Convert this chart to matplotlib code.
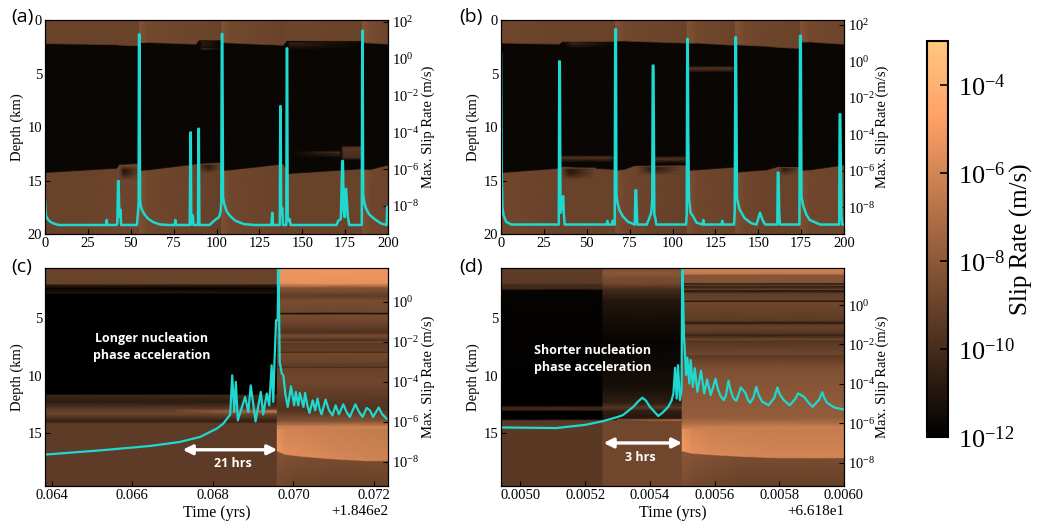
import numpy as np
import matplotlib
matplotlib.use("Agg")
import matplotlib.pyplot as plt
from matplotlib.colors import LogNorm
from matplotlib.cm import ScalarMappable

plt.rcParams['font.family'] = ['Liberation Serif', 'DejaVu Sans']
plt.rcParams['mathtext.fontset'] = 'stix'

W, H = 1037, 523
VMIN, VMAX = 1e-12, 1e-3
LINE = "#1fd8d0"
norm = LogNorm(VMIN, VMAX)

# panel (a): slip rate field, log10 values
a_t = [0, 20, 42, 43.5, 54.9, 55.1, 60, 88, 90, 102.9, 103.1, 108, 139, 141, 184.9, 185.1, 190, 200]
a_top = [2.25, 2.3, 2.35, 2.4, 2.45, 2.15, 2.15, 2.3, 1.95, 1.95, 2.15, 2.2, 2.4, 2.0, 2.05, 2.15, 2.2, 2.3]
a_low = [14.3, 14.1, 13.9, 13.55, 13.45, 14.1, 14.05, 13.5, 13.45, 13.35, 14.1, 14.05, 13.5, 14.4, 13.95, 14.0, 14.0, 13.6]
a_up_val = [-9.0, -9.0, -9.0, -9.0, -9.0, -8.3, -8.7, -8.9, -8.9, -9.0, -8.3, -8.7, -9.0, -8.9, -9.0, -8.2, -8.6, -8.9]
a_low_val = [-9.0, -9.0, -8.9, -8.9, -8.9, -8.4, -8.8, -9.0, -9.0, -9.1, -8.4, -8.8, -9.0, -9.0, -9.0, -8.4, -8.8, -8.9]
a_patch_t = [(43.5, 46, 55), (90, 92, 103), (141, 143, 185), (141.5, 172, 174), (172.5, 174, 184, 185), (88, 95, 103)]
a_patch_d = [(13.65, 14.0, 14.35, 14.9), (1.97, 2.05, 2.6, 2.72, 2.82), (2.05, 2.15, 2.6, 2.8),
             (12.2, 12.38, 12.5, 12.9), (11.75, 11.95, 12.9, 13.1), (13.5, 13.6, 13.95, 14.3)]
a_patch_v = [(-9.0, -10.9, -10.9, -9.0), (-11.7, -10.6, -11.2, -9.8, -11.7), (-11.7, -10.4, -11.2, -11.7),
             (-11.7, -9.7, -10.3, -11.7), (-11.7, -9.6, -9.9, -11.7), (-9.0, -10.8, -10.4, -9.0)]
a_patch_bg = [-9.0, -11.7, -11.7, -11.7, -11.7, -9.0]

# panel (a): max slip rate
a_line_t = [0, 0.5, 1.5, 3, 5, 8, 34, 35.6, 36, 36.4, 41.8, 42.2, 42.6, 42.9, 43.1, 43.3, 43.7, 44.0, 44.4, 53.6, 54.2, 54.6, 54.8, 55.1, 55.4, 55.8, 56.5, 58, 60, 63, 67, 72,
            75.6, 76, 76.4, 84.4, 84.8, 85.0, 85.3, 85.8, 86.2, 86.6, 89.2, 89.5, 89.7, 90.0, 96, 98, 100, 101.5, 102.4, 102.8, 103.1, 103.4, 103.8, 104.5, 106, 108, 111, 116, 122,
            132, 132.5, 133, 136.9, 137.2, 137.4, 137.7, 138.3, 138.8, 140.7, 141, 141.2, 141.5, 142, 142.6, 143.2, 170, 171, 172.5, 173.3, 173.7, 174.2, 174.8, 175.5, 176, 176.6, 177.4,
            184.7, 185, 185.2, 185.5, 186, 187, 189, 192, 196, 199.2, 199.5, 200]
a_line_v = [-7.7, -8.5, -8.7, -8.85, -8.95, -9.03, -9.03, -9.03, -8.76, -9.03, -9.03, -8.9, -6.64, -6.64, -7.5, -8.3, -8.6, -8.2, -9.03, -9.03, -8.4, -7.8, 1.33, 1.33, -7.6, -8.0, -8.2, -8.45, -8.68, -8.87, -9.0, -9.03,
            -9.03, -8.76, -9.03, -9.03, -4.0, -4.0, -9.0, -8.9, -8.5, -9.03, -9.03, -3.8, -3.8, -9.03, -9.03, -8.85, -8.7, -8.6, -8.3, -7.8, 1.35, 1.35, -7.5, -7.9, -8.3, -8.55, -8.8, -8.98, -9.03,
            -9.03, -8.37, -9.03, -9.03, -2.57, -2.57, -8.4, -8.1, -9.03, -9.03, 0.57, 0.57, -8.6, -8.8, -8.7, -9.03, -9.03, -8.8, -8.7, -5.55, -5.55, -8.3, -8.6, -7.06, -7.7, -8.6, -9.03,
            -9.03, 1.53, 1.53, -7.3, -7.75, -8.1, -8.45, -8.7, -8.95, -9.03, -8.05, -8.05]

# panel (b): slip rate field, log10 values
b_t = [0, 34, 36, 66.6, 66.8, 72, 78, 108.4, 108.7, 114, 136.4, 136.7, 142, 155, 161.5, 174.4, 174.6, 180, 200]
b_top = [2.2, 2.3, 2.05, 2.05, 2.0, 2.0, 2.05, 2.2, 2.2, 2.2, 2.4, 2.35, 2.4, 2.5, 2.6, 2.7, 2.1, 2.1, 2.3]
b_low = [14.3, 13.9, 13.75, 14.0, 14.1, 14.0, 13.65, 13.6, 14.1, 14.05, 13.8, 14.3, 14.2, 14.05, 13.75, 14.1, 14.1, 14.05, 13.6]
b_up_val = [-8.8, -9.0, -9.0, -9.0, -8.3, -8.7, -8.8, -9.0, -8.3, -8.7, -9.0, -8.3, -8.7, -8.9, -8.9, -9.0, -8.3, -8.7, -8.9]
b_low_val = [-8.8, -9.0, -9.0, -9.0, -8.4, -8.8, -8.9, -9.1, -8.4, -8.8, -9.0, -8.4, -8.8, -9.0, -9.0, -9.0, -8.4, -8.8, -8.9]
b_patch_t = [(34.5, 35, 64, 66.5), (35, 40, 55), (109, 109.5, 135, 136.4), (88, 89, 107, 108.4), (80, 88, 106), (36, 42, 66.5), (161.5, 165, 174)]
b_patch_d = [(12.65, 12.85, 13.0, 13.3), (13.85, 14.0, 14.4, 14.9), (4.3, 4.5, 4.7, 4.9), (12.7, 12.95, 13.1, 13.4),
             (13.7, 13.8, 14.05, 14.5), (2.1, 2.15, 2.35, 2.6), (13.8, 13.9, 14.1, 14.5)]
b_patch_v = [(-11.7, -9.7, -10.2, -11.7), (-9.0, -11.0, -10.8, -9.0), (-11.7, -9.7, -10.2, -11.7), (-11.7, -9.7, -10.2, -11.7),
             (-9.0, -10.9, -10.8, -9.0), (-11.7, -10.2, -10.6, -11.7), (-9.0, -10.8, -10.6, -9.0)]
b_patch_bg = [-11.7, -9.0, -11.7, -11.7, -9.0, -11.7, -9.0]

# panel (b): max slip rate
b_line_t = [0, 0.4, 0.8, 1.5, 3, 6, 33.7, 34, 34.3, 34.7, 35.4, 36, 36.3, 36.6, 37.1, 61.6, 62, 62.4, 64.6, 65, 65.6, 66.3, 66.6, 67, 67.3, 67.8, 69, 71, 74, 78,
            78.4, 78.8, 79.1, 79.5, 85, 86.5, 87.6, 88.2, 88.5, 88.9, 89.4, 90, 90.5, 107.9, 108.3, 108.6, 108.9, 109.2, 109.6, 110.5, 112, 114, 117.6, 118, 118.4, 128.6, 129, 129.4,
            135.9, 136.3, 136.7, 137, 137.6, 139, 142, 146, 149, 151, 152.5, 154, 161.1, 161.4, 161.8, 162.2, 162.6, 174, 174.4, 174.8, 175.2, 176, 178, 180, 186, 197.2, 197.5, 197.8, 198.5, 199, 200]
b_line_v = [0.44, -6.0, -8.0, -8.45, -8.8, -8.95, -8.95, 0.0, 0.0, -8.3, -8.0, -7.4, -7.4, -8.3, -8.95, -8.95, -8.75, -8.95, -8.95, -8.75, -8.95, -8.95, 1.76, 1.76, -7.3, -7.7, -8.15, -8.5, -8.8, -8.95,
            -7.07, -7.07, -8.0, -8.95, -8.95, -8.6, -8.3, -7.6, -0.23, -0.23, -8.4, -8.6, -8.95, -8.95, -8.4, 1.23, 1.23, -4.26, -7.5, -8.3, -8.5, -8.85, -8.95, -8.7, -8.95, -8.95, -8.75, -8.95,
            -8.95, -8.2, 1.32, 1.32, -7.5, -8.1, -8.6, -8.88, -8.95, -8.3, -8.7, -8.95, -8.95, -6.1, -6.1, -8.2, -8.95, -8.95, 1.4, 1.4, -7.4, -7.85, -8.4, -8.7, -8.95, -8.95, -2.9, -2.9, -8.5, -8.95, -8.95]

# panel (c): depth knots and log10 slip rate before and after the event
c_pre_t = [0.06383, 0.06960]
c_pre_d = [0.65, 2.05, 2.15, 2.45, 2.85, 2.95, 11.6, 11.75, 12.3, 12.9, 13.35, 13.9, 14.05, 14.2, 19.6]
c_pre_v = [-9.0, -9.0, -10.6, -11.9, -11.0, -12, -12, -10.2, -10.8, -9.4, -8.9, -10.4, -10.4, -9.3, -9.3]
c_post_t = [0.06960, 0.07235]
c_post_d = [0.65, 2.0, 2.4, 2.7, 3.1, 3.5, 4.55, 4.6, 4.68, 4.75, 5.4, 6.0, 6.3, 6.5, 6.7, 7.0, 7.1, 7.2, 7.9, 8.0, 8.1, 8.8, 9.3, 9.35, 9.4, 10.5, 12, 13, 14.0, 14.4, 14.7]
c_post_v = [-5.2, -5.4, -8.3, -8.6, -9.3, -8.5, -8.9, -11.2, -11.2, -8.6, -8.9, -9.5, -9.8, -8.6, -8.9, -10.0, -8.5, -9.4, -9.2, -10.2, -8.7, -9.0, -9.5, -10.0, -9.0, -8.8, -9.4, -9.7, -8.2, -6.4, -6.0]
c_bright_t = [0.06960, 0.0698, 0.0703, 0.0710, 0.0718, 0.07235]
c_bright_edge = [16.6, 16.9, 17.1, 17.3, 17.45, 17.45]
c_bright_val = [-5.2, -5.6, -5.7, -5.9, -6.0, -6.1]
c_under_val = [-8.2, -8.4, -8.5, -8.6, -8.6, -8.6]
c_glow_t = [0.0671, 0.0680, 0.0690, 0.0692, 0.06958]
c_glow_d = [(12.95, 13.13, 13.35)] * 5
c_glow_v = [-8.9, -7.9, -7.2, -6.6, -6.0]
c_glow_bg = -9.0

# panel (c): max slip rate
c_line_t = [0.06384, 0.0652, 0.06644, 0.06718, 0.06768, 0.06785, 0.0681, 0.06826, 0.06843, 0.06848, 0.06853, 0.06857, 0.06862, 0.0688, 0.06888, 0.06894, 0.06906, 0.06919, 0.06925, 0.06934,
            0.0694, 0.06946, 0.0695, 0.06953, 0.06957, 0.06961, 0.06963, 0.06966, 0.06971, 0.06975, 0.0698, 0.06986, 0.06994, 0.07002, 0.07006, 0.07012, 0.07016, 0.07025, 0.07029,
            0.07035, 0.0704, 0.07048, 0.07054, 0.0706, 0.07065, 0.0707, 0.0708, 0.07088, 0.07097, 0.07105, 0.07113, 0.07124, 0.07132, 0.0714, 0.07154, 0.07163, 0.07172, 0.07182, 0.0719, 0.07198, 0.07212, 0.0722, 0.07231]
c_line_v = [-7.63, -7.42, -7.2, -7.0, -6.75, -6.58, -6.33, -6.08, -5.63, -3.67, -5.5, -4.0, -5.92, -4.75, -5.5, -4.17, -5.97, -4.5, -5.63, -4.58,
            -5.17, -3.17, -5.0, -3.0, -0.92, -0.9, 1.67, -3.0, -3.58, -3.67, -4.6, -5.25, -4.22, -5.17, -4.5, -5.17, -4.55, -5.25, -4.55,
            -5.2, -5.55, -4.92, -5.42, -4.83, -5.35, -5.62, -4.88, -5.4, -5.67, -5.17, -5.62, -5.12, -5.5, -5.75, -5.12, -5.5, -5.75, -5.3, -5.42, -5.75, -5.28, -5.6, -5.83]

# panel (d): depth knots in three time windows
d_pre_t = [0.00494, 0.005255]
d_pre_d = [0.65, 2.0, 2.1, 2.5, 2.6, 12.6, 12.8, 13.0, 13.15, 13.8, 13.95, 19.6]
d_pre_v = [-9.3, -9.3, -10.0, -10.2, -11.8, -12, -10.2, -10.2, -12, -12, -9.4, -9.4]
d_mid_t = [0.005255, 0.0055]
d_mid_d = [0.65, 1.1, 1.6, 2.05, 2.5, 3.5, 7, 11, 12.4, 12.8, 13.1, 13.85, 13.95, 19.6]
d_mid_v = [-8.6, -8.0, -8.6, -8.8, -10.0, -11.0, -11.8, -11.3, -10.6, -9.4, -10.6, -11.0, -8.8, -8.8]
d_post_t = [0.0055, 0.0060]
d_post_d = [0.65, 0.9, 1.2, 1.3, 1.95, 2.05, 2.2, 2.3, 2.55, 2.65, 2.9, 3.5, 3.55, 3.65, 4.3, 5.3, 5.45, 5.6, 5.8, 6.4, 6.5, 6.9, 7.0, 8.2, 8.3, 9.2, 10, 12, 13.7, 14.4, 14.8]
d_post_v = [-5.7, -6.2, -6.6, -8.2, -8.2, -10.8, -9.0, -10.6, -9.0, -11.0, -9.2, -9.0, -11.7, -8.8, -9.0, -9.4, -11.0, -9.3, -9.0, -9.6, -10.5, -8.7, -9.6, -8.8, -9.4, -8.5, -8.3, -8.0, -7.8, -6.5, -5.9]
d_bright_t = [0.0055, 0.00553, 0.0056, 0.0057, 0.0058, 0.0060]
d_bright_edge = [16.6, 16.8, 16.95, 17.1, 17.2, 17.2]
d_bright_val = [-5.0, -5.5, -5.8, -5.9, -6.0, -6.0]
d_under_val = [-8.0, -8.2, -8.4, -8.6, -8.6, -8.6]
d_glow_t = [0.00530, 0.00540, 0.0055]
d_glow_d = [(13.8, 13.9, 14.0)] * 3
d_glow_v = [-8.6, -7.6, -6.6]
d_glow_bg = -9.0

# panel (d): max slip rate
d_line_t = [0.00494, 0.00511, 0.0052, 0.005255, 0.0053, 0.005317, 0.005349, 0.005365, 0.005377, 0.005388, 0.0054, 0.005426, 0.00544, 0.005457, 0.005467, 0.005473, 0.005478, 0.005483, 0.005487, 0.005493, 0.005498, 0.0055, 0.005501,
            0.005506, 0.005507, 0.005512, 0.005516, 0.005522, 0.005526, 0.005533, 0.005539, 0.005547, 0.005558, 0.005568, 0.005577, 0.005588, 0.005603, 0.00561, 0.005618, 0.005628, 0.005635, 0.005643, 0.00565, 0.005658, 0.005667,
            0.005675, 0.005681, 0.005695, 0.005703, 0.00571, 0.00572, 0.005729, 0.005736, 0.005747, 0.005767, 0.005785, 0.005794, 0.005802, 0.005814, 0.005832, 0.00585, 0.005858, 0.005876, 0.00589, 0.005903, 0.005923, 0.005933, 0.00594, 0.005948, 0.00597, 0.006]
d_line_v = [-6.21, -6.24, -6.08, -5.89, -5.68, -5.58, -5.16, -4.87, -4.70, -4.85, -5.16, -5.63, -5.45, -5.16, -4.85, -4.48, -3.18, -4.74, -3.05, -4.82, -4.3, 1.78, 1.78,
            -1.86, -1.95, -3.55, -2.67, -3.98, -2.79, -4.15, -3.21, -4.4, -3.33, -4.48, -3.77, -4.57, -3.74, -4.25, -4.6, -4.82, -4.6, -3.84, -4.35, -4.72, -4.86,
            -4.5, -4.18, -4.45, -4.8, -4.96, -4.7, -4.15, -4.55, -4.9, -5.08, -4.7, -4.18, -4.55, -4.82, -5.09, -4.75, -4.48, -4.65, -4.95, -5.16, -4.8, -4.42, -4.75, -4.96, -5.2, -5.3]


def draw_bands(ax, t0, t1, depths, logs):
    """Fill one time window with slip rate given at depth knots."""
    d = np.array(depths, dtype=float)
    v = 10.0**np.array(logs, dtype=float)
    X = np.column_stack([np.full(len(d), t0), np.full(len(d), t1)])
    Y = np.column_stack([d, d])
    C = np.column_stack([v, v])
    ax.pcolormesh(X, Y, C, cmap="copper", norm=norm, shading="gouraud")


def draw_blob(ax, t, depths, logs, bg):
    """Feature that fades into its surroundings at both ends in time."""
    d = np.array(depths, dtype=float)
    X = np.tile(np.array(t, float), (len(d), 1))
    Y = np.tile(d[:, None], (1, len(t)))
    C = np.tile(np.array(logs, float)[:, None], (1, len(t)))
    C[:, 0] = bg
    C[:, -1] = bg
    ax.pcolormesh(X, Y, 10.0**C, cmap="copper", norm=norm, shading="gouraud")


def draw_glow(ax, t, depths, logs, bg):
    """Thin bright layer whose brightness changes with time."""
    Y = np.array(depths, float).T
    X = np.tile(np.array(t, float), (Y.shape[0], 1))
    C = np.full(Y.shape, float(bg))
    C[1, :] = logs
    ax.pcolormesh(X, Y, 10.0**C, cmap="copper", norm=norm, shading="gouraud")


def draw_field(ax, t, top, low, up_val, low_val, black=-11.7, bottom=20.0):
    """Upper and lower creeping zones around a locked zone, with moving edges."""
    t, top, low = np.array(t, float), np.array(top, float), np.array(low, float)
    up_val, low_val = np.array(up_val, float), np.array(low_val, float)
    blk = np.full(len(t), black)
    Y = np.column_stack([np.zeros(len(t)), top - 0.06, top + 0.06, low - 0.06, low + 0.06, np.full(len(t), bottom)])
    C = np.column_stack([up_val, up_val, blk, blk, low_val, low_val])
    X = np.tile(t[:, None], (1, Y.shape[1]))
    ax.pcolormesh(X, Y, 10.0**C, cmap="copper", norm=norm, shading="gouraud")


def draw_edge(ax, t, edge, bright, under, top=14.7, bottom=19.6):
    """Bright zone after the event whose lower edge moves with time."""
    t, edge = np.array(t, float), np.array(edge, float)
    bright, under = np.array(bright, float), np.array(under, float)
    Y = np.column_stack([np.full(len(t), top), edge - 0.05, edge + 0.05, np.full(len(t), bottom)])
    C = np.column_stack([bright - 0.4, bright, under, under - 0.5])
    X = np.tile(t[:, None], (1, 4))
    ax.pcolormesh(X, Y, 10.0**C, cmap="copper", norm=norm, shading="gouraud")


def make_axes(box):
    x0, y0, x1, y1 = box
    ax = fig.add_axes([x0/W, 1 - y1/H, (x1 - x0)/W, (y1 - y0)/H])
    ax.tick_params(labelsize=10.5, direction="in", length=3.5, pad=2, width=0.8)
    ax.set_ylabel("Depth (km)", fontsize=10.5)
    ax.yaxis.set_label_coords(-0.06, 0.5)
    return ax


def add_line(ax, t, v, ylim, label_x, lw=1.8):
    ax2 = ax.twinx()
    ax2.plot(t, 10.0**np.array(v), color=LINE, lw=lw)
    ax2.set_yscale("log")
    ax2.set_ylim(10.0**ylim[0], 10.0**ylim[1])
    ax2.set_yticks([10.0**e for e in range(-8, 3, 2) if e <= ylim[1]])
    ax2.minorticks_off()
    ax2.tick_params(labelsize=10.5, direction="in", length=3.5, pad=3, width=0.8)
    ax2.set_ylabel("Max. Slip Rate (m/s)", fontsize=10.5)
    ax2.yaxis.set_label_coords(label_x, 0.5)
    return ax2


fig = plt.figure(figsize=(W/100, H/100), dpi=100)

# (a)
ax_a = make_axes((45, 20, 388, 234))
draw_field(ax_a, a_t, a_top, a_low, a_up_val, a_low_val)
for t, d, v, bg in zip(a_patch_t, a_patch_d, a_patch_v, a_patch_bg):
    draw_blob(ax_a, t, d, v, bg)
ax_a.set_xlim(0, 200)
ax_a.set_ylim(20, 0)
ax_a.set_xticks(np.arange(0, 201, 25))
ax_a.set_yticks([0, 5, 10, 15, 20])
add_line(ax_a, a_line_t, a_line_v, (-9.52, 2.11), 1.097)

# (b)
ax_b = make_axes((501, 20, 844, 234))
draw_field(ax_b, b_t, b_top, b_low, b_up_val, b_low_val)
for t, d, v, bg in zip(b_patch_t, b_patch_d, b_patch_v, b_patch_bg):
    draw_blob(ax_b, t, d, v, bg)
ax_b.set_xlim(0, 200)
ax_b.set_ylim(20, 0)
ax_b.set_xticks(np.arange(0, 201, 25))
ax_b.set_yticks([0, 5, 10, 15, 20])
add_line(ax_b, b_line_t, b_line_v, (-9.47, 2.27), 1.091)

# (c)
ax_c = make_axes((45, 268, 388, 486))
draw_bands(ax_c, c_pre_t[0], c_pre_t[1], c_pre_d, c_pre_v)
draw_bands(ax_c, c_post_t[0], c_post_t[1], c_post_d, c_post_v)
draw_edge(ax_c, c_bright_t, c_bright_edge, c_bright_val, c_under_val)
draw_glow(ax_c, c_glow_t, c_glow_d, c_glow_v, c_glow_bg)
ax_c.set_xlim(0.06383, 0.07235)
ax_c.set_ylim(19.6, 0.65)
ax_c.set_xticks([0.064, 0.066, 0.068, 0.070, 0.072])
ax_c.set_xticklabels(["0.064", "0.066", "0.068", "0.070", "0.072"])
ax_c.set_yticks([5, 10, 15])
ax_c.set_xlabel("Time (yrs)", fontsize=11.5, labelpad=2)
ax_c.text(1.0, -0.115, "+1.846e2", transform=ax_c.transAxes, fontsize=11, ha="right", va="center")
add_line(ax_c, c_line_t, c_line_v, (-9.2, 1.69), 1.097, lw=1.6)
ax_c.annotate("", xy=(0.06725, 16.45), xytext=(0.0696, 16.45),
              arrowprops=dict(arrowstyle="<|-|>", color="white", lw=2.4, shrinkA=0, shrinkB=0, mutation_scale=14))
ax_c.text(0.06849, 17.67, "21 hrs", color="white", fontsize=9, family="Open Sans", weight="bold", ha="center", va="center")
ax_c.text(0.06648, 7.5, "Longer nucleation\nphase acceleration", color="white", fontsize=9, family="Open Sans",
          weight="bold", ha="center", va="center", linespacing=1.45)

# (d)
ax_d = make_axes((501, 268, 844, 486))
draw_bands(ax_d, d_pre_t[0], d_pre_t[1], d_pre_d, d_pre_v)
draw_bands(ax_d, d_mid_t[0], d_mid_t[1], d_mid_d, d_mid_v)
draw_bands(ax_d, d_post_t[0], d_post_t[1], d_post_d, d_post_v)
draw_edge(ax_d, d_bright_t, d_bright_edge, d_bright_val, d_under_val)
draw_glow(ax_d, d_glow_t, d_glow_d, d_glow_v, d_glow_bg)
ax_d.set_xlim(0.00494, 0.0060)
ax_d.set_ylim(19.6, 0.65)
ax_d.set_xticks([0.0050, 0.0052, 0.0054, 0.0056, 0.0058, 0.0060])
ax_d.set_xticklabels(["0.0050", "0.0052", "0.0054", "0.0056", "0.0058", "0.0060"])
ax_d.set_yticks([5, 10, 15])
ax_d.set_xlabel("Time (yrs)", fontsize=11.5, labelpad=2)
ax_d.text(1.0, -0.115, "+6.618e1", transform=ax_d.transAxes, fontsize=11, ha="right", va="center")
add_line(ax_d, d_line_t, d_line_v, (-9.18, 1.88), 1.091, lw=1.6)
ax_d.annotate("", xy=(0.005257, 15.86), xytext=(0.0055, 15.86),
              arrowprops=dict(arrowstyle="<|-|>", color="white", lw=2.4, shrinkA=0, shrinkB=0, mutation_scale=14))
ax_d.text(0.005369, 17.1, "3 hrs", color="white", fontsize=9, family="Open Sans", weight="bold", ha="center", va="center")
ax_d.text(0.005224, 8.54, "Shorter nucleation\nphase acceleration", color="white", fontsize=9, family="Open Sans",
          weight="bold", ha="center", va="center", linespacing=1.45)

# panel letters
for label, px, py in [("(a)", 11, 17), ("(b)", 459, 17), ("(c)", 11, 267), ("(d)", 459, 267)]:
    fig.text(px/W, 1 - py/H, label, fontsize=14, family="Open Sans", va="center", ha="left")

# colorbar
cax = fig.add_axes([927/W, 1 - 437/H, 21/W, 396/H])
cb = fig.colorbar(ScalarMappable(norm=norm, cmap="copper"), cax=cax)
cb.set_ticks([1e-12, 1e-10, 1e-8, 1e-6, 1e-4])
cb.minorticks_off()
cb.ax.tick_params(labelsize=19, direction="in", length=6, width=1.2, pad=7)
cb.outline.set_linewidth(1.5)
cb.ax.set_ylabel("Slip Rate (m/s)", fontsize=18)
cb.ax.yaxis.set_label_coords(3.95, 0.5)

fig.savefig("out.png", dpi=100)
